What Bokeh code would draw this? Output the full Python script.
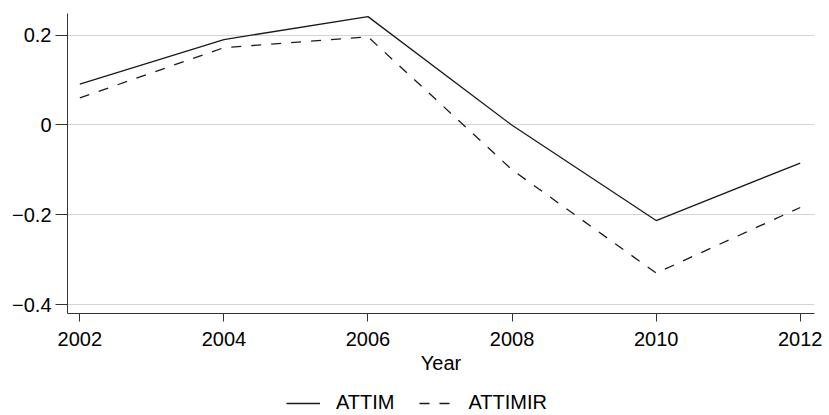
from bokeh.plotting import figure
from bokeh.layouts import column
from bokeh.models import Range1d, FixedTicker, Legend, LegendItem
from bokeh.embed import file_html
from bokeh.resources import INLINE

years = [2002, 2004, 2006, 2008, 2010, 2012]
attim = [0.091, 0.190, 0.241, -0.001, -0.213, -0.085]
attimir = [0.060, 0.172, 0.196, -0.100, -0.330, -0.184]
series_names = ["ATTIM", "ATTIMIR"]

x_ticks = [2002, 2004, 2006, 2008, 2010, 2012]
y_ticks = [-0.4, -0.2, 0, 0.2]
y_tick_labels = ["\u22120.4", "\u22120.2", "0", "0.2"]

FONT = "Liberation Sans"
INK = "#1a1a1a"
DASH = "10 10"

p = figure(width=829, height=382, output_backend="svg", toolbar_location=None,
           x_range=Range1d(2001.829, 2012.198), y_range=Range1d(-0.42, 0.248),
           min_border_left=67, min_border_right=15, min_border_top=13, min_border_bottom=69)
p.outline_line_color = None
p.background_fill_color = "white"
p.border_fill_color = "white"

p.xgrid.visible = False
p.ygrid.grid_line_color = "#d4d4d4"
p.ygrid.grid_line_width = 1

p.xaxis.ticker = FixedTicker(ticks=x_ticks)
p.yaxis.ticker = FixedTicker(ticks=y_ticks)
p.yaxis.major_label_overrides = {t: l for t, l in zip(y_ticks, y_tick_labels)}

for ax in (p.xaxis[0], p.yaxis[0]):
    ax.axis_line_color = "#333333"
    ax.axis_line_width = 1
    ax.major_tick_line_color = "#333333"
    ax.minor_tick_line_color = None
    ax.major_tick_in = 0
    ax.major_label_text_font = FONT
    ax.major_label_text_font_size = "20px"
    ax.major_label_text_color = "black"
    ax.axis_label_text_font = FONT
    ax.axis_label_text_font_size = "20px"
    ax.axis_label_text_font_style = "normal"
    ax.axis_label_text_color = "black"

p.xaxis.major_tick_out = 8
p.xaxis.major_label_standoff = 10
p.xaxis.axis_label = "Year"
p.xaxis.axis_label_standoff = 3
p.yaxis.major_tick_out = 12
p.yaxis.major_label_standoff = 4

p.line(years, attim, line_color=INK, line_width=1.3)
p.line(years, attimir, line_color=INK, line_width=1.3, line_dash=DASH)

# legend strip below the chart (its ranges keep the series themselves out of view,
# only the legend samples are shown)
lg = figure(width=829, height=33, output_backend="svg", toolbar_location=None,
            x_range=Range1d(0, 1), y_range=Range1d(0, 1),
            min_border=0, min_border_left=0, min_border_right=0,
            min_border_top=0, min_border_bottom=0)
lg.axis.visible = False
lg.grid.visible = False
lg.outline_line_color = None
lg.border_fill_color = "white"
s1 = lg.line(years, attim, line_color=INK, line_width=1.3)
s2 = lg.line(years, attimir, line_color=INK, line_width=1.3, line_dash=DASH)

legend = Legend(items=[LegendItem(label=series_names[0], renderers=[s1]),
                       LegendItem(label=series_names[1], renderers=[s2])],
                orientation="horizontal", location=(219, 1),
                border_line_color=None, background_fill_alpha=0,
                label_text_font=FONT, label_text_font_size="20px",
                label_text_color="black", glyph_width=34, glyph_height=20,
                label_height=20, label_standoff=16, spacing=24,
                padding=0, margin=0)
lg.add_layout(legend, "center")

layout = column(p, lg, spacing=0)
open("out.html", "w").write(file_html(layout, INLINE))
